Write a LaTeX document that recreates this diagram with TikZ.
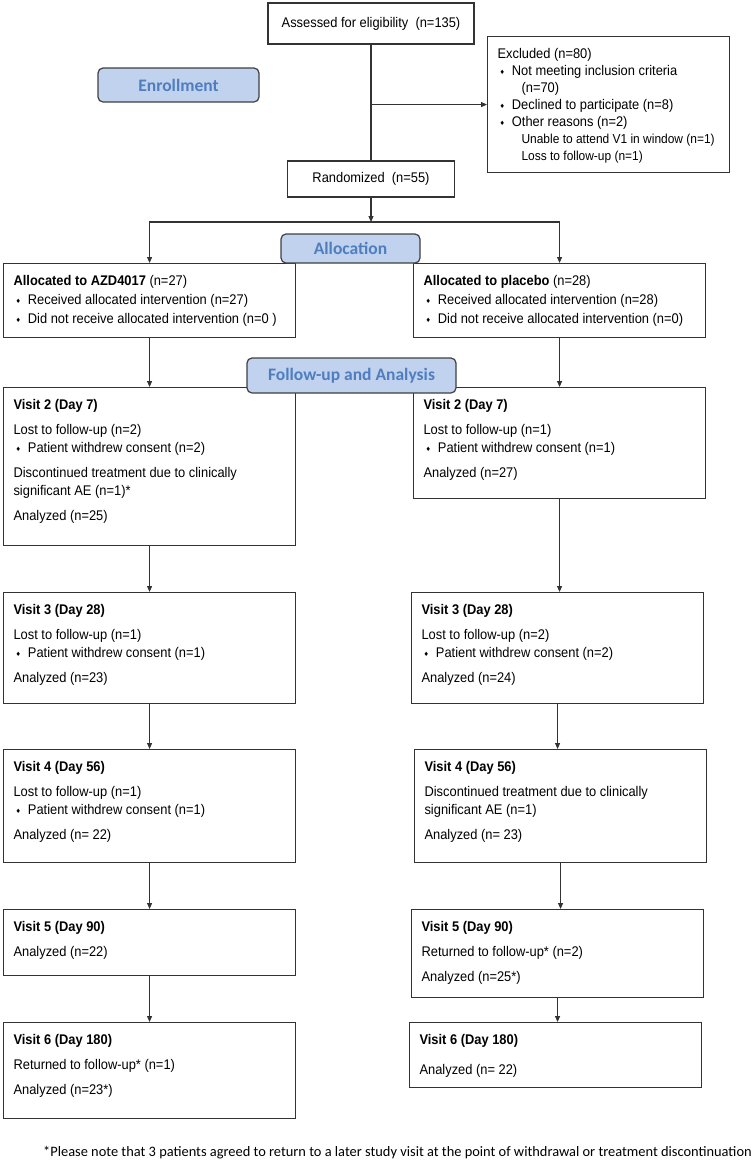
\documentclass[tikz,border=0pt]{standalone}
\usepackage{fontspec}
\setmainfont{Liberation Sans}[FakeStretch=0.92]
\newfontfamily\calfont{Carlito}
\newfontfamily\dingfont{DejaVu Sans}
\usetikzlibrary{arrows.meta}
\definecolor{stagefill}{RGB}{192,210,238}
\definecolor{stagetext}{RGB}{79,125,190}
\newcommand{\dia}{\raisebox{1.5pt}{\dingfont\fontsize{6}{6}\selectfont ♦}}
\newcommand{\bul}{\hspace*{2pt}\dia\hspace{7pt}}
\newcommand{\bx}[3]{\parbox[t][#2][t]{#1}{#3}}

\begin{document}
\begin{tikzpicture}[x=1pt, y=-1pt,
  box/.style={draw=black!80, line width=1.1pt, anchor=north west, inner xsep=10pt, inner ysep=12pt,
    font=\fontsize{14}{18}\selectfont},
  single/.style={draw=black!80, line width=1.1pt, font=\fontsize{14}{18}\selectfont},
  stage/.style={draw=black!75, line width=1.2pt, rounded corners=5pt, fill=stagefill, text=stagetext,
    font=\calfont\bfseries\fontsize{17.5}{19}\selectfont},
  arr/.style={line width=1.1pt, draw=black!80, -{Triangle[length=6pt,width=5pt]}}]
  \useasboundingbox (0,0) rectangle (755,1163);

  % screening
  \node[single, minimum width=206pt, minimum height=41pt] (assess) at (371,23.5) {Assessed for eligibility\ \ (n=135)};
  \node[box, font=\fontsize{14}{17}\selectfont] (excl) at (487,36) {\bx{222pt}{112pt}{%
    Excluded (n=80)\\
    \bul Not meeting inclusion criteria\\
    \hspace*{24pt}(n=70)\\
    \bul Declined to participate (n=8)\\
    \bul Other reasons (n=2)\\
    {\fontsize{13}{17}\selectfont\hspace*{24pt}Unable to attend V1 in window (n=1)}\\
    {\fontsize{13}{17}\selectfont\hspace*{24pt}Loss to follow-up (n=1)}}};
  \node[single, minimum width=167pt, minimum height=36pt] (rand) at (371,179) {Randomized\ \ (n=55)};

  % allocation
  \node[box] (allocA) at (3,263) {\bx{272pt}{50pt}{%
    \textbf{Allocated to AZD4017} (n=27)\\[1pt]
    \bul Received allocated intervention (n=27)\\[1pt]
    \bul Did not receive allocated intervention (n=0 )}};
  \node[box] (allocB) at (413,263) {\bx{272pt}{50pt}{%
    \textbf{Allocated to placebo} (n=28)\\[1pt]
    \bul Received allocated intervention (n=28)\\[1pt]
    \bul Did not receive allocated intervention (n=0)}};

  % follow-up, AZD4017 arm
  \node[box] (v2a) at (3,387) {\bx{272pt}{134pt}{%
    \textbf{Visit 2 (Day 7)}\\[7pt]
    Lost to follow-up (n=2)\\
    \bul Patient withdrew consent (n=2)\\[7pt]
    Discontinued treatment due to clinically\\
    significant AE (n=1)*\\[7pt]
    Analyzed (n=25)}};
  \node[box] (v3a) at (3,592) {\bx{272pt}{87pt}{%
    \textbf{Visit 3 (Day 28)}\\[7pt]
    Lost to follow-up (n=1)\\
    \bul Patient withdrew consent (n=1)\\[7pt]
    Analyzed (n=23)}};
  \node[box] (v4a) at (3,749) {\bx{272pt}{89pt}{%
    \textbf{Visit 4 (Day 56)}\\[7pt]
    Lost to follow-up (n=1)\\
    \bul Patient withdrew consent (n=1)\\[7pt]
    Analyzed (n= 22)}};
  \node[box] (v5a) at (3,909) {\bx{272pt}{42pt}{%
    \textbf{Visit 5 (Day 90)}\\[7pt]
    Analyzed (n=22)}};
  \node[box] (v6a) at (3,1022) {\bx{272pt}{72pt}{%
    \textbf{Visit 6 (Day 180)}\\[7pt]
    Returned to follow-up* (n=1)\\[7pt]
    Analyzed (n=23*)}};

  % follow-up, placebo arm
  \node[box] (v2b) at (413,387) {\bx{272pt}{87pt}{%
    \textbf{Visit 2 (Day 7)}\\[7pt]
    Lost to follow-up (n=1)\\
    \bul Patient withdrew consent (n=1)\\[7pt]
    Analyzed (n=27)}};
  \node[box] (v3b) at (411,592) {\bx{272pt}{87pt}{%
    \textbf{Visit 3 (Day 28)}\\[7pt]
    Lost to follow-up (n=2)\\
    \bul Patient withdrew consent (n=2)\\[7pt]
    Analyzed (n=24)}};
  \node[box] (v4b) at (414,749) {\bx{272pt}{89pt}{%
    \textbf{Visit 4 (Day 56)}\\[7pt]
    Discontinued treatment due to clinically\\
    significant AE (n=1)\\[7pt]
    Analyzed (n= 23)}};
  \node[box] (v5b) at (411,909) {\bx{272pt}{64pt}{%
    \textbf{Visit 5 (Day 90)}\\[7pt]
    Returned to follow-up* (n=2)\\[7pt]
    Analyzed (n=25*)}};
  \node[box] (v6b) at (409,1022) {\bx{272pt}{41pt}{%
    \textbf{Visit 6 (Day 180)}\\[12pt]
    Analyzed (n= 22)}};

  % connectors
  \coordinate (split) at (rand.south |- 0,222);
  \draw[line width=1.1pt, draw=black!80] (assess) -- (rand);
  \draw[arr] (assess.south |- excl.west) -- (excl.west);
  \draw[arr] (rand) -- (split);
  \draw[arr] (split) -| (allocA.north);
  \draw[arr] (split) -| (allocB.north);
  \draw[arr] (allocA) -- (v2a);
  \draw[arr] (v2a) -- (v3a);
  \draw[arr] (v3a) -- (v4a);
  \draw[arr] (v4a) -- (v5a);
  \draw[arr] (v5a) -- (v6a);
  \draw[arr] (allocB.south) -- (allocB.south |- v2b.north);
  \draw[arr] (v2b.south) -- (v2b.south |- v3b.north);
  \draw[arr] (v3b.south) -- (v3b.south |- v4b.north);
  \draw[arr] (v4b.south) -- (v4b.south |- v5b.north);
  \draw[arr] (v5b.south) -- (v5b.south |- v6b.north);

  % stage labels
  \node[stage, minimum width=161pt, minimum height=34pt] (enrol) at (178.5,85) {Enrollment};
  \node[stage, minimum width=139pt, minimum height=29pt] (alloc) at (350.5,248.5) {Allocation};
  \node[stage, minimum width=209pt, minimum height=35pt] (follow) at (351.5,375.5) {Follow-up and Analysis};

  \node[anchor=west, inner sep=0pt, font=\calfont\fontsize{14.4}{16}\selectfont] (note) at (43,1153)
    {*Please note that 3 patients agreed to return to a later study visit at the point of withdrawal or treatment discontinuation};
\end{tikzpicture}
\end{document}
